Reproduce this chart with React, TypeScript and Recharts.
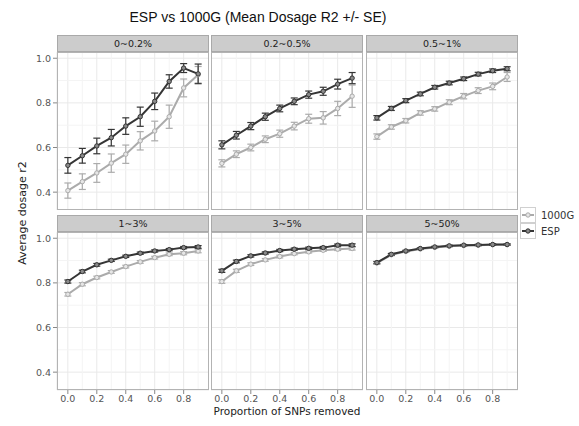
import React from 'react';
import { LineChart, Line, XAxis, YAxis, CartesianGrid, ErrorBar, ReferenceLine } from 'recharts';

const proportions = [0, 0.1, 0.2, 0.3, 0.4, 0.5, 0.6, 0.7, 0.8, 0.9];
const panelLabels = ['0~0.2%', '0.2~0.5%', '0.5~1%', '1~3%', '3~5%', '5~50%'];

// mean dosage r2
const esp_0_02 = [0.52, 0.563, 0.607, 0.644, 0.696, 0.738, 0.807, 0.896, 0.956, 0.93];
const g1k_0_02 = [0.407, 0.447, 0.486, 0.53, 0.57, 0.63, 0.674, 0.738, 0.867, 0.926];
const esp_02_05 = [0.612, 0.655, 0.696, 0.738, 0.775, 0.807, 0.837, 0.852, 0.884, 0.911];
const g1k_02_05 = [0.529, 0.57, 0.6, 0.637, 0.662, 0.696, 0.729, 0.733, 0.775, 0.83];
const esp_05_1 = [0.733, 0.775, 0.81, 0.84, 0.87, 0.889, 0.908, 0.929, 0.944, 0.953];
const g1k_05_1 = [0.649, 0.692, 0.72, 0.755, 0.773, 0.803, 0.83, 0.855, 0.874, 0.916];
const esp_1_3 = [0.806, 0.851, 0.881, 0.901, 0.919, 0.933, 0.943, 0.949, 0.958, 0.961];
const g1k_1_3 = [0.749, 0.794, 0.824, 0.849, 0.873, 0.894, 0.913, 0.928, 0.933, 0.943];
const esp_3_5 = [0.854, 0.896, 0.921, 0.934, 0.945, 0.951, 0.955, 0.958, 0.969, 0.969];
const g1k_3_5 = [0.806, 0.854, 0.884, 0.903, 0.918, 0.931, 0.939, 0.946, 0.951, 0.954];
const esp_5_50 = [0.891, 0.928, 0.943, 0.954, 0.961, 0.966, 0.969, 0.97, 0.972, 0.972];
const g1k_5_50 = [0.889, 0.926, 0.941, 0.952, 0.959, 0.964, 0.967, 0.969, 0.971, 0.971];

// standard errors
const espSe_0_02 = [0.035, 0.033, 0.035, 0.037, 0.037, 0.043, 0.037, 0.03, 0.02, 0.044];
const g1kSe_0_02 = [0.034, 0.035, 0.042, 0.041, 0.041, 0.041, 0.044, 0.052, 0.04, 0.037];
const espSe_02_05 = [0.018, 0.017, 0.016, 0.016, 0.015, 0.015, 0.016, 0.018, 0.022, 0.025];
const g1kSe_02_05 = [0.016, 0.015, 0.015, 0.015, 0.016, 0.017, 0.02, 0.028, 0.032, 0.05];
const espSe_05_1 = [0.01, 0.009, 0.009, 0.008, 0.008, 0.008, 0.008, 0.008, 0.008, 0.009];
const g1kSe_05_1 = [0.012, 0.01, 0.01, 0.01, 0.01, 0.011, 0.012, 0.013, 0.015, 0.02];
const espSe_1_3 = [0.007, 0.006, 0.006, 0.005, 0.005, 0.005, 0.005, 0.005, 0.005, 0.006];
const g1kSe_1_3 = [0.008, 0.007, 0.006, 0.006, 0.006, 0.006, 0.006, 0.006, 0.007, 0.008];
const espSe_3_5 = [0.007, 0.006, 0.005, 0.005, 0.005, 0.005, 0.005, 0.005, 0.005, 0.006];
const g1kSe_3_5 = [0.008, 0.007, 0.006, 0.006, 0.006, 0.005, 0.005, 0.005, 0.006, 0.007];
const espSe_5_50 = [0.005, 0.004, 0.003, 0.003, 0.003, 0.003, 0.003, 0.003, 0.003, 0.003];
const g1kSe_5_50 = [0.005, 0.004, 0.003, 0.003, 0.003, 0.003, 0.003, 0.003, 0.003, 0.003];

const xTicks = [0, 0.2, 0.4, 0.6, 0.8];
const xMinor = [0.1, 0.3, 0.5, 0.7, 0.9];
const yTicks = [0.4, 0.6, 0.8, 1.0];
const yMinor = [0.5, 0.7, 0.9];

const ESP_COLOR = '#353535';
const G1K_COLOR = '#ababab';
const FONT = '"DejaVu Sans", sans-serif';

const buildRows = (esp: number[], g1k: number[], espSe: number[], g1kSe: number[]) =>
  proportions.map((p, i) => ({ p, esp: esp[i], g1k: g1k[i], espSe: espSe[i], g1kSe: g1kSe[i] }));

const panels = [
  buildRows(esp_0_02, g1k_0_02, espSe_0_02, g1kSe_0_02),
  buildRows(esp_02_05, g1k_02_05, espSe_02_05, g1kSe_02_05),
  buildRows(esp_05_1, g1k_05_1, espSe_05_1, g1kSe_05_1),
  buildRows(esp_1_3, g1k_1_3, espSe_1_3, g1kSe_1_3),
  buildRows(esp_3_5, g1k_3_5, espSe_3_5, g1kSe_3_5),
  buildRows(esp_5_50, g1k_5_50, espSe_5_50, g1kSe_5_50),
];

const PW = 152;
const PH = 158;
const colX = [57, 211, 366];
const rowY = [52, 232];
const STRIP_H = 17;
const Y_AXIS_W = 40;
const X_AXIS_H = 18;

const tickStyle = { fontSize: 9.5, fill: '#555', fontFamily: FONT };

const Panel = ({ idx }: { idx: number }) => {
  const col = idx % 3;
  const row = Math.floor(idx / 3);
  const showY = col === 0;
  const showX = row === 1;
  const left = colX[col] - (showY ? Y_AXIS_W : 0);
  const top = rowY[row];
  return (
    <>
      <div style={{
        position: 'absolute', left: colX[col], top: top - STRIP_H, width: PW, height: STRIP_H,
        boxSizing: 'border-box', background: '#cccccc', border: '1px solid #a9a9a9',
        fontFamily: FONT, fontSize: 9.5, color: '#222', textAlign: 'center', lineHeight: '15px',
      }}>{panelLabels[idx]}</div>
      <div style={{ position: 'absolute', left, top }}>
        <LineChart width={PW + (showY ? Y_AXIS_W : 0)} height={PH + (showX ? X_AXIS_H : 0)}
          data={panels[idx]} margin={{ top: 0, right: 0, bottom: 0, left: 0 }}>
          <CartesianGrid stroke="#e9e9e9" />
          {xMinor.map(v => <ReferenceLine key={'x' + v} x={v} stroke="#f4f4f4" />)}
          {yMinor.map(v => <ReferenceLine key={'y' + v} y={v} stroke="#f4f4f4" />)}
          <XAxis dataKey="p" type="number" domain={[-0.075, 0.975]} ticks={xTicks} hide={!showX}
            height={X_AXIS_H} axisLine={false} tickSize={4} tickMargin={1} tickLine={{ stroke: '#888' }}
            tick={tickStyle} tickFormatter={(v: number) => v.toFixed(1)} allowDataOverflow />
          <YAxis type="number" domain={[0.32, 1.028]} ticks={yTicks} hide={!showY}
            width={Y_AXIS_W} axisLine={false} tickSize={4} tickLine={{ stroke: '#888' }}
            tick={tickStyle} tickFormatter={(v: number) => v.toFixed(1)} allowDataOverflow />
          <Line dataKey="g1k" stroke={G1K_COLOR} strokeWidth={2} isAnimationActive={false}
            dot={{ r: 2.2, fill: '#e6e6e6', stroke: G1K_COLOR, strokeWidth: 1 }}>
            <ErrorBar dataKey="g1kSe" width={3.5} stroke={G1K_COLOR} strokeWidth={1.2} isAnimationActive={false} />
          </Line>
          <Line dataKey="esp" stroke={ESP_COLOR} strokeWidth={2} isAnimationActive={false}
            dot={{ r: 2.2, fill: '#8a8a8a', stroke: ESP_COLOR, strokeWidth: 1 }}>
            <ErrorBar dataKey="espSe" width={3.5} stroke={ESP_COLOR} strokeWidth={1.2} isAnimationActive={false} />
          </Line>
        </LineChart>
      </div>
      <div style={{
        position: 'absolute', left: colX[col], top, width: PW, height: PH,
        boxSizing: 'border-box', border: '1px solid #b3b3b3', pointerEvents: 'none',
      }} />
    </>
  );
};

const LegendKey = ({ color, fill }: { color: string; fill: string }) => (
  <svg width={16} height={16} style={{ display: 'block' }}>
    <rect x={0.5} y={0.5} width={15} height={15} fill="#fff" stroke="#d0d0d0" />
    <line x1={2} y1={8} x2={14} y2={8} stroke={color} strokeWidth={2} />
    <circle cx={8} cy={8} r={2.2} fill={fill} stroke={color} />
  </svg>
);

export default function App() {
  return (
    <div style={{ position: 'absolute', left: 0, top: 0, width: 579, height: 426, background: '#fff', fontFamily: FONT }}>
      <div style={{
        position: 'absolute', left: 58, top: 9, width: 400, textAlign: 'center', whiteSpace: 'nowrap',
        fontSize: 14, color: '#111', fontFamily: '"Liberation Sans", Arial, sans-serif',
      }}>
        ESP vs 1000G (Mean Dosage R2 +/- SE)
      </div>
      {panels.map((_, i) => <Panel key={i} idx={i} />)}
      <div style={{
        position: 'absolute', left: 22, top: 213, transform: 'translate(-50%, -50%) rotate(-90deg)',
        fontSize: 11, color: '#222', whiteSpace: 'nowrap',
      }}>Average dosage r2</div>
      <div style={{ position: 'absolute', left: 137, top: 405, width: 300, textAlign: 'center', fontSize: 10.5, color: '#222' }}>
        Proportion of SNPs removed
      </div>
      <div style={{ position: 'absolute', left: 520, top: 207 }}>
        <div style={{ display: 'flex', alignItems: 'center', height: 16 }}>
          <LegendKey color={G1K_COLOR} fill="#e6e6e6" />
          <span style={{ marginLeft: 5, fontSize: 10, color: '#333' }}>1000G</span>
        </div>
        <div style={{ display: 'flex', alignItems: 'center', height: 16 }}>
          <LegendKey color={ESP_COLOR} fill="#8a8a8a" />
          <span style={{ marginLeft: 5, fontSize: 10, color: '#333' }}>ESP</span>
        </div>
      </div>
    </div>
  );
}
